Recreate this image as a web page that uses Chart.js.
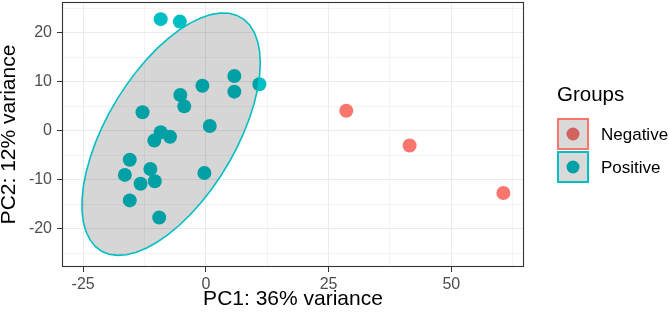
<!DOCTYPE html>
<html>
<head>
<meta charset="utf-8">
<script src="https://cdn.jsdelivr.net/npm/chart.js@4.4.1/dist/chart.umd.min.js"></script>
<style>
  html, body { margin: 0; padding: 0; background: #ffffff; }
  canvas { display: block; }
</style>
</head>
<body>
<canvas id="pcaPlot" width="669" height="316"></canvas>
<script>
// PCA scores
var groupNames = ["Negative", "Positive"];
var groupColors = ["#F8766D", "#00BFC4"];

var negativeX = [28.6, 41.5, 60.6];
var negativeY = [4.1, -3.0, -12.7];

var positiveX = [-9.2, -5.3, 5.8, 5.8, 10.9, -0.7, -5.2, -4.4, -12.9, 0.8, -9.2,
                 -7.3, -10.5, -15.5, -11.3, -16.5, -0.3, -13.3, -10.4, -15.5, -9.5];
var positiveY = [22.8, 22.3, 11.2, 8.0, 9.5, 9.2, 7.3, 5.0, 3.8, 1.0, -0.3,
                 -1.2, -2.0, -5.9, -7.8, -9.0, -8.6, -10.8, -10.3, -14.2, -17.7];

var xMajorTicks = [-25, 0, 25, 50];
var xMinorTicks = [-12.5, 12.5, 37.5, 62.5];
var yMajorTicks = [-20, -10, 0, 10, 20];
var yMinorTicks = [-25, -15, -5, 5, 15, 25];
var xLimits = [-29.3, 64.8];
var yLimits = [-27.8, 26.3];

var xTitle = "PC1: 36% variance";
var yTitle = "PC2: 12% variance";
var legendTitle = "Groups";

// F(0.95; 2, n-1) for n = 21, used by the 95% ellipse
var F_QUANTILE = 3.4928;

var FONT = '"Liberation Sans", Arial, sans-serif';

function toPoints(xs, ys) {
    return xs.map(function (x, i) { return { x: x, y: ys[i] }; });
}

// robust location/scatter like MASS::cov.trob (nu = 5)
function covTrob(xs, ys) {
    var n = xs.length, nu = 5, p = 2;
    var w = xs.map(function () { return 1; });
    var lx = xs.reduce(function (a, b) { return a + b; }, 0) / n;
    var ly = ys.reduce(function (a, b) { return a + b; }, 0) / n;
    var dx, dy;
    for (var iter = 0; iter < 25; iter++) {
        var w0 = w.slice();
        dx = xs.map(function (x) { return x - lx; });
        dy = ys.map(function (y) { return y - ly; });
        var sw = w.reduce(function (a, b) { return a + b; }, 0);
        var sxx = 0, sxy = 0, syy = 0;
        for (var i = 0; i < n; i++) {
            sxx += w[i] * dx[i] * dx[i];
            sxy += w[i] * dx[i] * dy[i];
            syy += w[i] * dy[i] * dy[i];
        }
        sxx /= sw; sxy /= sw; syy /= sw;
        var det = sxx * syy - sxy * sxy;
        w = dx.map(function (a, i) {
            var b = dy[i];
            var q = (syy * a * a - 2 * sxy * a * b + sxx * b * b) / det;
            return (nu + p) / (nu + q);
        });
        var tw = w.reduce(function (a, b) { return a + b; }, 0);
        lx = 0; ly = 0;
        for (var j = 0; j < n; j++) { lx += w[j] * xs[j]; ly += w[j] * ys[j]; }
        lx /= tw; ly /= tw;
        var done = w.every(function (v, k) { return Math.abs(v - w0[k]) < 0.01; });
        if (done) break;
    }
    var cxx = 0, cxy = 0, cyy = 0;
    for (var m = 0; m < n; m++) {
        cxx += w[m] * dx[m] * dx[m];
        cxy += w[m] * dx[m] * dy[m];
        cyy += w[m] * dy[m] * dy[m];
    }
    return { center: [lx, ly], cov: [cxx / n, cxy / n, cyy / n] };
}

function ellipseOutline(xs, ys) {
    var est = covTrob(xs, ys);
    var a = est.cov[0], b = est.cov[1], c = est.cov[2];
    var r11 = Math.sqrt(a), r12 = b / r11, r22 = Math.sqrt(c - r12 * r12);
    var radius = Math.sqrt(2 * F_QUANTILE);
    var out = [];
    for (var k = 0; k <= 51; k++) {
        var t = k * 2 * Math.PI / 51;
        var u = Math.cos(t), v = Math.sin(t);
        out.push([est.center[0] + radius * u * r11,
                  est.center[1] + radius * (u * r12 + v * r22)]);
    }
    return out;
}

var positiveEllipse = ellipseOutline(positiveX, positiveY);

var pcaOverlay = {
    id: 'pcaOverlay',
    afterDatasetsDraw: function (chart) {
        var ctx = chart.ctx, area = chart.chartArea;
        var xs = chart.scales.x, ys = chart.scales.y;
        ctx.save();
        ctx.beginPath();
        ctx.rect(area.left, area.top, area.right - area.left, area.bottom - area.top);
        ctx.clip();
        ctx.beginPath();
        positiveEllipse.forEach(function (pt, i) {
            var px = xs.getPixelForValue(pt[0]), py = ys.getPixelForValue(pt[1]);
            if (i === 0) ctx.moveTo(px, py); else ctx.lineTo(px, py);
        });
        ctx.closePath();
        ctx.fillStyle = 'rgba(0,0,0,0.16)';
        ctx.fill();
        ctx.strokeStyle = groupColors[1];
        ctx.lineWidth = 1.6;
        ctx.stroke();
        ctx.restore();

        // panel border
        ctx.save();
        ctx.strokeStyle = '#333333';
        ctx.lineWidth = 1.1;
        ctx.strokeRect(Math.round(area.left) + 0.5, Math.round(area.top) + 0.5,
                       Math.round(area.right - area.left) - 1, Math.round(area.bottom - area.top) - 1);
        ctx.restore();
    },
    afterDraw: function (chart) {
        var ctx = chart.ctx;
        var left = 557, boxW = 32;
        var tops = [118, 151];
        var baselines = [140, 173];
        var keyDots = ['#D3645D', '#00A2A7'];
        ctx.save();
        ctx.fillStyle = '#000000';
        ctx.font = '20.5px ' + FONT;
        ctx.textBaseline = 'alphabetic';
        ctx.fillText(legendTitle, left, 100.5);
        groupNames.forEach(function (name, i) {
            var top = tops[i];
            ctx.fillStyle = '#D9D9D9';
            ctx.fillRect(left + 1, top + 1, boxW - 2, boxW - 2);
            ctx.strokeStyle = groupColors[i];
            ctx.lineWidth = 2;
            ctx.strokeRect(left + 1, top + 1, boxW - 2, boxW - 2);
            ctx.beginPath();
            ctx.arc(left + boxW / 2, top + boxW / 2, 6.5, 0, Math.PI * 2);
            ctx.fillStyle = keyDots[i];
            ctx.fill();
            ctx.fillStyle = '#000000';
            ctx.font = '17px ' + FONT;
            ctx.textBaseline = 'alphabetic';
            ctx.fillText(name, 601, baselines[i]);
        });
        ctx.restore();
    }
};

function gridStyle(majors) {
    return {
        color: '#EBEBEB',
        lineWidth: function (c) { return majors.indexOf(c.tick.value) >= 0 ? 1 : 0.6; },
        tickLength: 5,
        tickColor: function (c) { return majors.indexOf(c.tick.value) >= 0 ? '#333333' : 'rgba(0,0,0,0)'; },
        tickWidth: 1
    };
}

var allX = xMajorTicks.concat(xMinorTicks).sort(function (a, b) { return a - b; });
var allY = yMajorTicks.concat(yMinorTicks).sort(function (a, b) { return a - b; });

var pcaConfig = {
    type: 'scatter',
    data: {
        datasets: [{
            label: groupNames[0],
            data: toPoints(negativeX, negativeY),
            backgroundColor: groupColors[0],
            borderWidth: 0,
            pointRadius: 7
        }, {
            label: groupNames[1],
            data: toPoints(positiveX, positiveY),
            backgroundColor: groupColors[1],
            borderWidth: 0,
            pointRadius: 7
        }]
    },
    options: {
        responsive: false,
        animation: false,
        devicePixelRatio: 1,
        layout: { autoPadding: false, padding: { left: 0, right: 145, top: 2, bottom: 0 } },
        plugins: {
            legend: { display: false },
            tooltip: { enabled: false }
        },
        scales: {
            x: {
                type: 'linear',
                min: xLimits[0],
                max: xLimits[1],
                afterBuildTicks: function (s) { s.ticks = allX.map(function (v) { return { value: v }; }); },
                afterFit: function (s) { s.height = 49; s.paddingLeft = 0; s.paddingRight = 0; },
                grid: gridStyle(xMajorTicks),
                border: { display: false },
                ticks: {
                    autoSkip: false,
                    maxRotation: 0,
                    padding: 3,
                    color: '#4D4D4D',
                    font: { family: FONT, size: 16 },
                    callback: function (v) { return xMajorTicks.indexOf(v) >= 0 ? String(v) : ''; }
                },
                title: {
                    display: true,
                    text: xTitle,
                    color: '#000000',
                    padding: { top: 0, bottom: 4 },
                    font: { family: FONT, size: 21 }
                }
            },
            y: {
                type: 'linear',
                min: yLimits[0],
                max: yLimits[1],
                afterBuildTicks: function (s) { s.ticks = allY.map(function (v) { return { value: v }; }); },
                afterFit: function (s) { s.width = 62; s.paddingTop = 0; s.paddingBottom = 0; },
                grid: gridStyle(yMajorTicks),
                border: { display: false },
                ticks: {
                    autoSkip: false,
                    padding: 5,
                    color: '#4D4D4D',
                    font: { family: FONT, size: 16 },
                    callback: function (v) { return yMajorTicks.indexOf(v) >= 0 ? String(v) : ''; }
                },
                title: {
                    display: true,
                    text: yTitle,
                    color: '#000000',
                    padding: { top: 0, bottom: 0 },
                    font: { family: FONT, size: 21, lineHeight: 0.9 }
                }
            }
        }
    },
    plugins: [pcaOverlay]
};

var pcaCtx = document.getElementById("pcaPlot");
var pcaChart = new Chart(pcaCtx, pcaConfig);
</script>
</body>
</html>
